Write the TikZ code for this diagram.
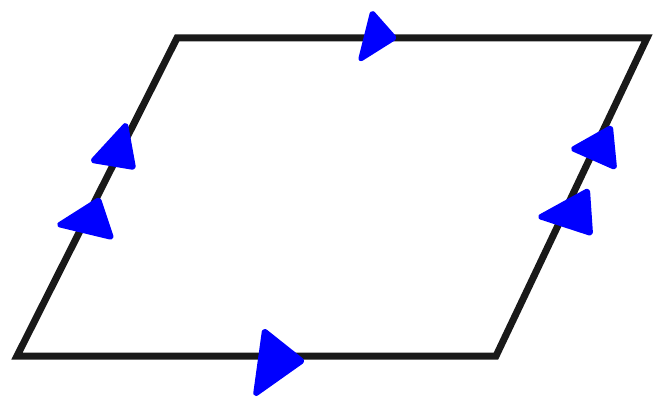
\documentclass[tikz,border=0pt]{standalone}
\usepackage{xcolor}

\begin{document}
\begin{tikzpicture}[x=1pt, y=-1pt,
  edge/.style={draw=black!90, line width=7pt, line join=miter},
  tipmark/.style={fill=blue, draw=blue, line width=4pt, line join=round, rounded corners=2pt}
]
  \useasboundingbox (0,0) rectangle (653,401);
  \coordinate (bl) at (17,356);
  \coordinate (br) at (496,356);
  \coordinate (tr) at (647,38);
  \coordinate (tl) at (177,38);
  \draw[edge] (bl) -- (br) -- (tr) -- (tl) -- cycle;
  % top and bottom marks
  \fill[tipmark] (372,12) -- (395,38) -- (360,60) -- cycle;
  \fill[tipmark] (264,330) -- (303,361) -- (255,395) -- cycle;
  % left edge marks
  \fill[tipmark] (126,124) -- (134,168) -- (92,161) -- cycle;
  \fill[tipmark] (99,199) -- (112,238) -- (58,225) -- cycle;
  % right edge marks
  \fill[tipmark] (611,127) -- (615,168) -- (572,149) -- cycle;
  \fill[tipmark] (588,190) -- (591,234) -- (539,217) -- cycle;
\end{tikzpicture}
\end{document}
